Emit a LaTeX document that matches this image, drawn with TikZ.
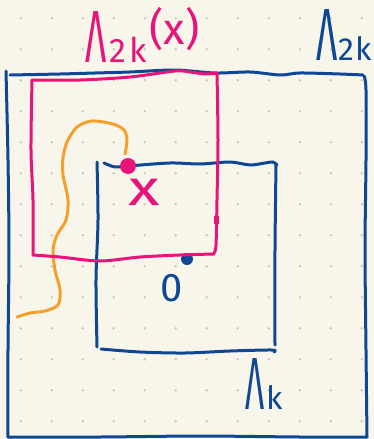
\documentclass[tikz,border=0pt]{standalone}
\usepackage{graphicx}
\usepackage{fontspec}
\setmainfont{Fira Sans}
\definecolor{paper}{RGB}{248,246,235}
\definecolor{ink}{RGB}{14,72,148}
\definecolor{hot}{RGB}{232,20,122}
\definecolor{amber}{RGB}{245,160,45}
\definecolor{griddot}{RGB}{203,201,193}
\tikzset{
  pen/.style={line width=3pt, line cap=round, line join=round},
  bluepen/.style={pen, draw=ink},
  pinkpen/.style={pen, draw=hot},
  orangepen/.style={pen, draw=amber},
  lbl/.style={inner sep=0pt, outer sep=0pt},
}
\begin{document}
\begin{tikzpicture}[x=1pt,y=-1pt]
\useasboundingbox (0,0) rectangle (374,439);
\fill[paper] (0,0) rectangle (374,439);
% dot grid
\foreach \i in {0,...,11}{
  \foreach \j in {0,...,13}{
    \fill[griddot] ({20.7+31*\i},{18.3+31*\j}) circle (1.4);
  }
}
% outer blue box
\draw[bluepen] plot[smooth] coordinates {(10,75) (60,74) (95,73) (130,72) (175,70) (215,73) (250,72) (280,75) (300,73) (340,74) (363,75)};
\draw[bluepen] plot[smooth] coordinates {(364,76) (366,90) (366,160) (365,250) (366,350) (367,437)};
\draw[bluepen] plot[smooth] coordinates {(6,71) (8,160) (9,250) (8,350) (8,437)};
\draw[bluepen] plot[smooth] coordinates {(8,437) (100,437) (200,436) (300,437) (367,437)};
% inner blue box
\draw[bluepen] plot[smooth] coordinates {(97,162) (98,220) (96,280) (97,347)};
\draw[bluepen] plot[smooth] coordinates {(104,163) (115,167) (128,166) (170,163) (200,164) (230,162) (250,165) (265,163) (273,162) (277,165)};
\draw[bluepen] plot[smooth] coordinates {(276,165) (275,250) (275,345)};
\draw[bluepen] plot[smooth] coordinates {(101,349) (140,352) (185,353) (230,351) (272,350) (274,352)};
% origin dot
\node[circle, fill=ink, minimum size=12pt, inner sep=0pt] (o) at (187,259) {};
% orange path
\draw[orangepen] plot[smooth] coordinates {(125,154) (127,140) (124,130) (113,124) (92,121) (77,127) (67,142) (63,158) (63,175) (68,200) (66,220) (57,235) (53,250) (55,270) (60,290) (58,305) (45,311) (30,313) (17,317)};
% pink box
\draw[pinkpen] plot[smooth] coordinates {(32,80) (80,80) (130,77) (175,71) (190,72) (205,74) (217,73)};
\draw[pinkpen] plot[smooth] coordinates {(217,73) (218,140) (217,200) (216,245) (214,253)};
\draw[pinkpen] plot[smooth] coordinates {(214,254) (180,255) (140,257) (100,261) (60,257) (33,255)};
\draw[pinkpen] plot[smooth] coordinates {(32,80) (31,150) (33,200) (33,255)};
\draw[hot, line width=5pt] (216,216) -- (216,224);
% x dot
\node[circle, fill=hot, minimum size=16pt, inner sep=0pt] (x) at (128,166) {};
% labels
\node[lbl, text=hot, anchor=base west] (lx) at (85,62) {{\fontsize{74}{74}\selectfont\scalebox{0.5}[1]{Λ}}\hspace{3pt}{\fontsize{34}{34}\selectfont 2\hspace{3pt}k}\hspace{3pt}\raisebox{18pt}{\fontsize{44}{44}\selectfont (x)}};
\node[lbl, text=ink, anchor=base west] (l2k) at (316,60) {{\fontsize{74}{74}\selectfont\scalebox{0.5}[1]{Λ}}\hspace{1pt}{\fontsize{32}{32}\selectfont 2\hspace{1pt}k}};
\node[lbl, text=ink, anchor=base west] (lk) at (245,409) {{\fontsize{74}{74}\selectfont\scalebox{0.45}[1]{Λ}}\hspace{2pt}{\fontsize{32}{32}\selectfont k}};
\node[lbl, text=hot] (xl) at (144,192) {\fontsize{50}{50}\selectfont\scalebox{1.3}[1]{x}};
\node[lbl, text=ink] (zero) at (172,288) {\fontsize{40}{40}\selectfont 0};
\end{tikzpicture}
\end{document}
